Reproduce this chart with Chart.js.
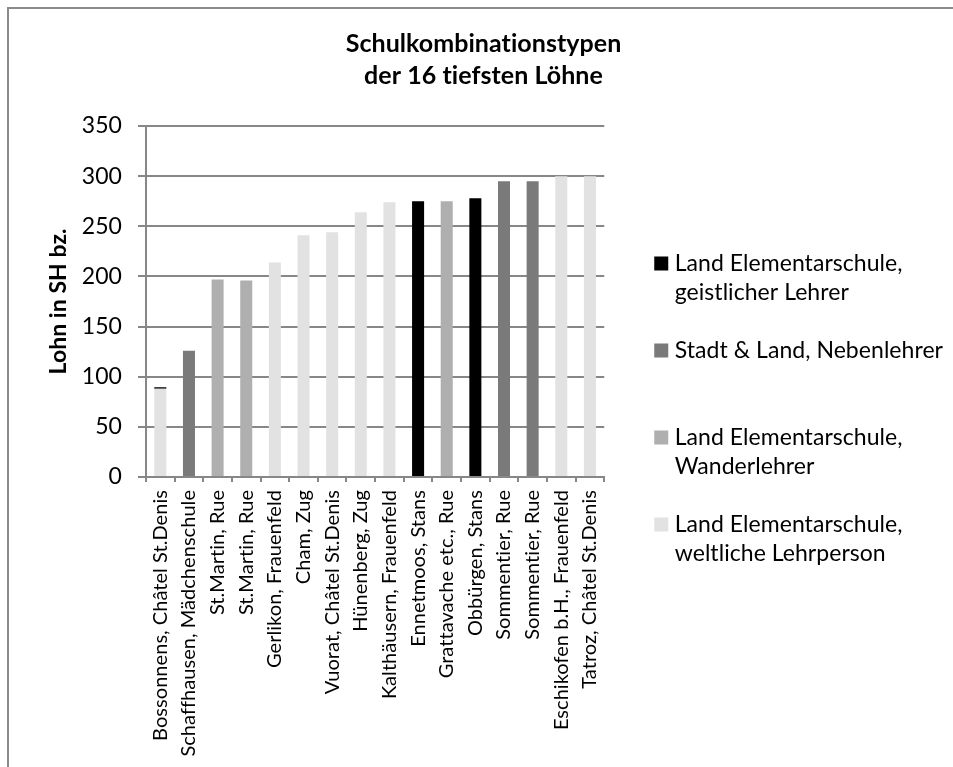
<!DOCTYPE html>
<html>
<head>
<meta charset="utf-8">
<script src="https://cdn.jsdelivr.net/npm/chart.js@4.4.1/dist/chart.umd.min.js"></script>
<style>
  html, body { margin: 0; padding: 0; background: #fff; overflow: hidden; }
  #wrap { position: relative; width: 953px; height: 767px; overflow: hidden; }
  #frame { position: absolute; left: 7px; top: 7px; width: 980px; height: 860px; border-left: 2px solid #8a8a8a; border-top: 2px solid #8a8a8a; pointer-events: none; }
  canvas { position: absolute; left: 0; top: 0; }
</style>
</head>
<body>
<div id="wrap">
  <canvas id="chart" width="953" height="823"></canvas>
  <div id="frame"></div>
</div>
<script>
// schools, in the order of the chart (lowest wage first)
const schools = [
  'Bossonnens, Châtel St.Denis', 'Schaffhausen, Mädchenschule', 'St.Martin, Rue', 'St.Martin, Rue',
  'Gerlikon, Frauenfeld', 'Cham, Zug', 'Vuorat, Châtel St.Denis', 'Hünenberg, Zug',
  'Kalthäusern, Frauenfeld', 'Ennetmoos, Stans', 'Grattavache etc., Rue', 'Obbürgen, Stans',
  'Sommentier, Rue', 'Sommentier, Rue', 'Eschikofen b.H., Frauenfeld', 'Tatroz, Châtel St.Denis'
];

// wages per school type (null = other type)
const geistlich = [1.5, null, null, null, null, null, null, null, null, 275, null, 278, null, null, null, null];
const nebenlehrer = [null, 126, null, null, null, null, null, null, null, null, null, null, 295, 295, null, null];
const wanderlehrer = [null, null, 197, 196, null, null, null, null, null, null, 275, null, null, null, null, null];
const weltlich = [88, null, null, null, 214, 241, 244, 264, 274, null, null, null, null, null, 300, 300];

const seriesNames = [
  'Land Elementarschule, geistlicher Lehrer',
  'Stadt & Land, Nebenlehrer',
  'Land Elementarschule, Wanderlehrer',
  'Land Elementarschule, weltliche Lehrperson'
];
const legendLines = [
  ['Land Elementarschule,', 'geistlicher Lehrer'],
  ['Stadt & Land, Nebenlehrer', ''],
  ['Land Elementarschule,', 'Wanderlehrer'],
  ['Land Elementarschule,', 'weltliche Lehrperson']
];
const yTicks = [0, 50, 100, 150, 200, 250, 300, 350];

const colors = ['#000000', '#7a7a7a', '#afafaf', '#e2e2e2'];
const lineColor = '#878787';
const FONT = 'Lato';

// light bars go first in the stack, so the little black cap on bar 1 sits on top
const stackOrder = [1, 2, 3, 0];

const seriesData = [geistlich, nebenlehrer, wanderlehrer, weltlich];

// no "ti" ligatures, and nudge the title a bit to the right like in the original
function noLigatures(ctx) {
  ctx.textRendering = 'optimizeSpeed';
  ctx.letterSpacing = '0.05px';
}
const tweaks = {
  id: 'tweaks',
  beforeLayout(chart) { noLigatures(chart.ctx); },
  afterLayout(chart) { chart.titleBlock.left += 14; },
  beforeDraw(chart) { noLigatures(chart.ctx); }
};

new Chart(document.getElementById('chart'), {
  type: 'bar',
  data: {
    labels: schools,
    datasets: seriesData.map((d, i) => ({
      label: seriesNames[i],
      data: d,
      backgroundColor: colors[i],
      borderWidth: 0,
      order: stackOrder[i],
      barPercentage: 0.42,
      categoryPercentage: 1
    }))
  },
  plugins: [tweaks],
  options: {
    responsive: false,
    animation: false,
    layout: { padding: { left: 0, right: 0, top: 0, bottom: 0 } },
    plugins: {
      tooltip: { enabled: false },
      title: {
        display: true,
        text: ['Schulkombinationstypen', 'der 16 tiefsten Löhne'],
        color: '#000',
        font: { family: FONT, size: 25, weight: 'bold', lineHeight: 1.28 },
        padding: { top: 28, bottom: 34 }
      },
      legend: {
        position: 'right',
        align: 'center',
        maxWidth: 400,
        labels: {
          color: '#000',
          font: { family: FONT, size: 23, lineHeight: 1.26 },
          usePointStyle: true,
          pointStyle: 'rect',
          boxWidth: 4,
          boxHeight: 14,
          padding: 29,
          sort: (a, b) => a.datasetIndex - b.datasetIndex,
          generateLabels(chart) {
            const items = Chart.defaults.plugins.legend.labels.generateLabels(chart);
            items.forEach(it => { it.text = legendLines[it.datasetIndex]; it.lineWidth = 0; });
            return items;
          }
        }
      }
    },
    scales: {
      x: {
        stacked: true,
        grid: { display: true, drawOnChartArea: false, offset: true, tickLength: 5, color: lineColor, lineWidth: 2 },
        border: { color: lineColor, width: 2 },
        ticks: { color: '#000', font: { family: FONT, size: 20 }, minRotation: 90, maxRotation: 90, padding: 8, autoSkip: false },
        afterFit(scale) { scale.height = 346; }
      },
      y: {
        stacked: true,
        min: 0,
        max: 350,
        afterBuildTicks(scale) { scale.ticks = yTicks.map(v => ({ value: v })); },
        grid: { color: lineColor, lineWidth: 2, tickLength: 8 },
        border: { color: lineColor, width: 2 },
        ticks: { color: '#000', font: { family: FONT, size: 23 }, padding: 16 },
        title: {
          display: true,
          text: 'Lohn in SH bz.',
          color: '#000',
          font: { family: FONT, size: 23, weight: 'bold' },
          padding: { top: 45, bottom: 0 }
        },
        afterFit(scale) { scale.width = 146; }
      },
      gap: {
        type: 'linear',
        position: 'right',
        grid: { display: false },
        border: { display: false },
        ticks: { display: false },
        afterFit(scale) { scale.width = 26; }
      }
    }
  }
});
</script>
</body>
</html>
